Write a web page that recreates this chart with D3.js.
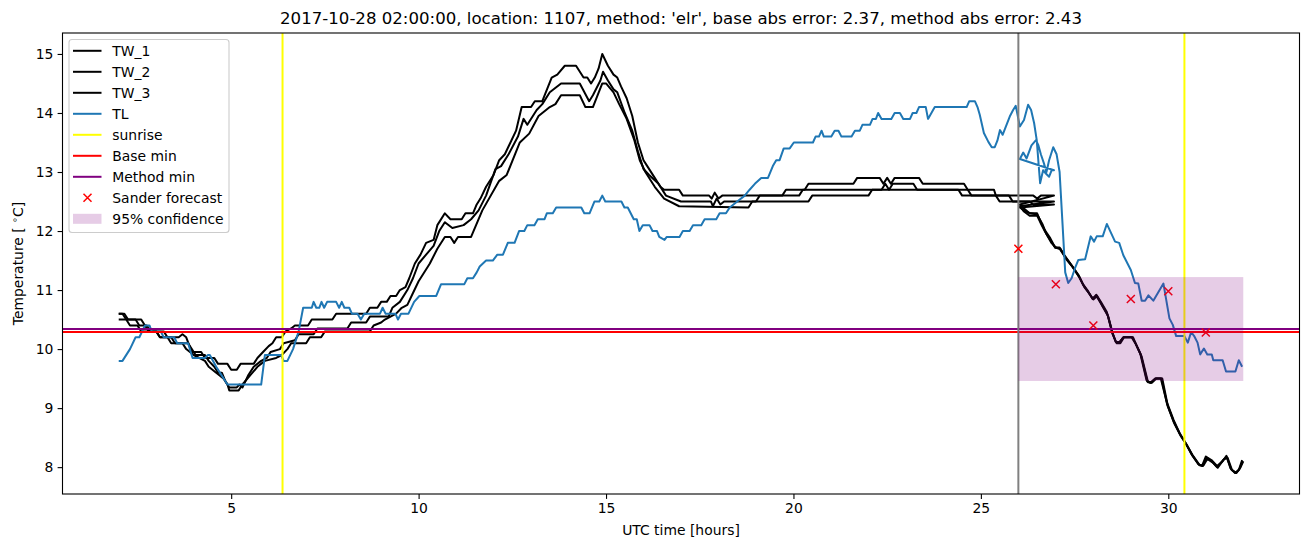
<!DOCTYPE html>
<html><head><meta charset="utf-8">
<script src="https://cdn.jsdelivr.net/npm/d3@7"></script>
<style>body{margin:0;background:#fff}svg{display:block}text{font-family:"DejaVu Sans",sans-serif}</style>
</head><body>
<svg id="c" width="1311" height="547"></svg>
<script>
// ---- data: [hour, temperature] ----
const tw1 = [[2.0,10.6],[2.15,10.6],[2.25,10.5],[2.45,10.5],[2.55,10.4],[2.75,10.4],[2.85,10.3],[3.2,10.3],[3.3,10.2],[3.6,10.2],[3.7,10.25],[3.8,10.2],[3.95,9.95],[4.2,9.95],[4.3,9.85],[4.55,9.85],[4.65,9.75],[4.9,9.75],[5.0,9.65],[5.15,9.65],[5.25,9.75],[5.6,9.75],[5.7,9.85],[5.85,9.95],[6.0,10.05],[6.1,10.1],[6.2,10.2],[6.35,10.2],[6.45,10.3],[6.6,10.35],[6.7,10.4],[7.05,10.4],[7.15,10.5],[7.7,10.5],[7.8,10.6],[8.6,10.6],[8.7,10.7],[8.9,10.7],[9.0,10.8],[9.15,10.8],[9.25,10.9],[9.4,10.9],[9.5,11.0],[9.65,11.05],[9.75,11.2],[9.9,11.45],[10.05,11.6],[10.2,11.8],[10.4,11.85],[10.5,12.1],[10.7,12.3],[10.85,12.2],[11.15,12.2],[11.25,12.3],[11.45,12.3],[11.55,12.45],[11.65,12.55],[11.8,12.75],[12.0,12.95],[12.15,13.2],[12.3,13.3],[12.45,13.5],[12.6,13.7],[12.75,14.1],[13.0,14.1],[13.1,14.2],[13.3,14.2],[13.55,14.6],[13.7,14.65],[13.9,14.8],[14.2,14.8],[14.4,14.6],[14.5,14.6],[14.6,14.5],[14.7,14.6],[14.8,14.75],[14.9,15.0],[15.05,14.8],[15.2,14.65],[15.3,14.6],[15.4,14.45],[15.55,14.25],[15.7,13.95],[15.85,13.5],[16.0,13.2],[16.1,13.1],[16.3,12.9],[16.45,12.75],[16.55,12.7],[16.95,12.7],[17.05,12.6],[17.75,12.6],[17.82,12.55],[17.9,12.65],[18.0,12.55],[18.1,12.6],[19.7,12.6],[19.8,12.7],[20.3,12.7],[20.4,12.8],[21.6,12.8],[21.7,12.9],[22.3,12.9],[22.4,12.8],[22.5,12.9],[22.6,12.8],[22.7,12.9],[23.35,12.9],[23.45,12.8],[24.55,12.8],[24.65,12.7],[25.35,12.7],[25.4,12.6],[26.4,12.6],[26.5,12.55],[26.6,12.6],[26.95,12.6],
  [26.04,12.45],[26.15,12.38],[26.3,12.3],[26.5,12.3],[26.6,12.15],[26.7,12.02],[26.85,11.88],[26.98,11.72],[27.1,11.72],[27.25,11.57],[27.42,11.42],[27.6,11.26],[27.72,11.1],[27.84,11.0],[27.98,10.85],[28.08,10.92],[28.2,10.8],[28.36,10.63],[28.5,10.3],[28.6,10.12],[28.7,10.12],[28.8,10.2],[29.02,10.2],[29.12,10.1],[29.25,9.93],[29.42,9.47],[29.52,9.43],[29.65,9.5],[29.8,9.5],[29.96,9.1],[30.14,8.8],[30.3,8.58],[30.45,8.42],[30.62,8.22],[30.8,8.05],[30.9,8.02],[31.0,8.18],[31.15,8.12],[31.3,8.02],[31.45,8.1],[31.55,8.19],[31.66,7.98],[31.78,7.9],[31.88,7.95],[31.97,8.12]];
const tw2 = [[2.0,10.6],[2.1,10.6],[2.2,10.5],[2.6,10.5],[2.7,10.4],[2.8,10.3],[3.0,10.3],[3.1,10.2],[3.4,10.2],[3.5,10.1],[3.85,10.1],[3.95,10.0],[4.05,9.9],[4.3,9.9],[4.4,9.8],[4.55,9.7],[4.65,9.6],[4.75,9.6],[4.85,9.45],[4.95,9.35],[5.15,9.35],[5.22,9.4],[5.3,9.35],[5.45,9.55],[5.6,9.7],[5.8,9.8],[5.95,9.85],[6.05,9.95],[6.3,10.0],[6.4,10.1],[6.7,10.15],[6.8,10.25],[7.2,10.25],[7.3,10.35],[8.1,10.35],[8.2,10.45],[8.6,10.45],[8.7,10.55],[9.2,10.55],[9.3,10.7],[9.5,10.8],[9.7,11.0],[9.85,11.2],[10.0,11.45],[10.2,11.6],[10.4,11.75],[10.55,12.0],[10.7,12.15],[10.9,12.05],[11.2,12.1],[11.4,12.2],[11.6,12.35],[11.8,12.6],[12.05,13.05],[12.2,13.1],[12.4,13.3],[12.65,13.6],[12.8,13.9],[12.9,13.8],[13.15,14.05],[13.3,14.15],[13.5,14.35],[13.8,14.5],[14.3,14.5],[14.55,14.2],[14.65,14.3],[14.85,14.55],[14.92,14.7],[15.05,14.55],[15.2,14.4],[15.3,14.35],[15.5,14.0],[15.7,13.7],[15.85,13.35],[16.0,13.05],[16.15,12.95],[16.4,12.8],[16.6,12.6],[17.0,12.5],[17.8,12.5],[17.85,12.42],[17.95,12.55],[18.05,12.45],[18.15,12.5],[19.0,12.5],[19.1,12.6],[20.15,12.6],[20.25,12.7],[22.35,12.7],[22.45,12.8],[22.55,12.7],[22.65,12.8],[23.2,12.8],[23.3,12.7],[24.65,12.7],[24.75,12.6],[25.75,12.6],[25.85,12.5],[26.95,12.5],
  [26.04,12.42],[26.15,12.33],[26.3,12.26],[26.5,12.26],[26.62,12.1],[26.72,11.98],[26.86,11.84],[26.98,11.72],[27.1,11.7],[27.26,11.55],[27.44,11.4],[27.62,11.23],[27.74,11.08],[27.86,10.97],[27.98,10.86],[28.08,10.9],[28.22,10.76],[28.38,10.58],[28.5,10.28],[28.6,10.12],[28.7,10.12],[28.8,10.2],[29.04,10.2],[29.14,10.08],[29.27,9.9],[29.44,9.45],[29.54,9.43],[29.66,9.5],[29.82,9.5],[29.97,9.06],[30.15,8.76],[30.32,8.55],[30.47,8.4],[30.64,8.2],[30.82,8.04],[30.92,8.02],[31.02,8.16],[31.16,8.1],[31.3,8.0],[31.46,8.12],[31.56,8.17],[31.68,7.96],[31.8,7.9],[31.9,7.97],[31.98,8.1]];
const tw3 = [[2.0,10.5],[2.2,10.5],[2.3,10.4],[2.5,10.4],[2.6,10.3],[3.0,10.3],[3.1,10.2],[3.3,10.2],[3.4,10.1],[3.7,10.1],[3.8,10.0],[4.0,9.9],[4.3,9.8],[4.4,9.7],[4.6,9.6],[4.8,9.5],[4.9,9.4],[4.95,9.3],[5.2,9.3],[5.3,9.4],[5.5,9.55],[5.7,9.7],[5.9,9.8],[6.2,9.85],[6.35,9.9],[6.5,10.0],[6.6,10.1],[7.0,10.1],[7.1,10.2],[7.4,10.2],[7.5,10.3],[8.7,10.3],[8.8,10.4],[9.0,10.45],[9.1,10.5],[9.4,10.6],[9.55,10.7],[9.7,10.75],[9.85,10.95],[10.0,11.15],[10.3,11.45],[10.5,11.7],[10.7,11.9],[10.85,11.9],[10.95,11.8],[11.05,11.9],[11.4,11.9],[11.7,12.35],[12.15,12.85],[12.35,12.95],[12.7,13.5],[12.95,13.65],[13.2,13.95],[13.5,14.1],[13.65,14.15],[13.8,14.3],[14.3,14.3],[14.45,14.1],[14.65,14.1],[14.9,14.5],[15.0,14.5],[15.2,14.35],[15.35,14.15],[15.55,13.9],[15.75,13.55],[15.9,13.2],[16.05,13.0],[16.3,12.75],[16.55,12.55],[16.95,12.42],[18.8,12.4],[18.9,12.5],[20.4,12.5],[20.5,12.6],[22.0,12.6],[22.1,12.7],[24.4,12.7],[24.5,12.6],[25.4,12.6],[25.5,12.5],[26.3,12.5],[26.4,12.45],[26.95,12.45],
  [26.04,12.4],[26.17,12.34],[26.32,12.3],[26.5,12.28],[26.64,12.12],[26.74,11.96],[26.88,11.8],[27.0,11.72],[27.12,11.7],[27.28,11.52],[27.46,11.38],[27.64,11.2],[27.76,11.05],[27.88,10.95],[28.0,10.84],[28.1,10.9],[28.24,10.73],[28.4,10.55],[28.52,10.25],[28.62,10.1],[28.72,10.1],[28.82,10.2],[29.06,10.2],[29.16,10.05],[29.29,9.87],[29.46,9.44],[29.56,9.43],[29.68,9.5],[29.84,9.5],[29.99,9.03],[30.17,8.73],[30.34,8.52],[30.49,8.38],[30.66,8.19],[30.84,8.03],[30.94,8.03],[31.04,8.14],[31.18,8.08],[31.32,7.99],[31.48,8.13],[31.58,8.16],[31.7,7.95],[31.82,7.9],[31.92,7.99],[32.0,8.1]];
const tl = [[2.0,9.8],[2.1,9.8],[2.3,10.0],[2.45,10.2],[2.55,10.2],[2.7,10.4],[2.82,10.4],[2.88,10.3],[3.12,10.3],[3.2,10.2],[3.48,10.2],[3.56,10.1],[3.85,10.1],[3.97,9.85],[4.3,9.85],[4.38,9.9],[4.43,9.9],[4.6,9.7],[4.75,9.55],[4.9,9.4],[5.8,9.4],[5.9,9.9],[6.33,9.9],[6.4,9.8],[6.5,9.8],[6.65,10.0],[6.8,10.3],[6.92,10.7],[7.15,10.7],[7.2,10.8],[7.27,10.7],[7.35,10.7],[7.41,10.8],[7.48,10.7],[7.56,10.8],[7.8,10.8],[7.88,10.7],[7.95,10.8],[8.02,10.7],[8.15,10.7],[8.22,10.6],[8.37,10.6],[8.46,10.5],[8.55,10.6],[8.97,10.6],[9.04,10.7],[9.12,10.6],[9.38,10.6],[9.45,10.5],[9.53,10.6],[9.73,10.6],[9.88,10.8],[10.02,10.9],[10.47,10.9],[10.6,11.1],[11.22,11.1],[11.3,11.2],[11.45,11.2],[11.55,11.3],[11.63,11.4],[11.8,11.5],[11.98,11.5],[12.1,11.6],[12.25,11.6],[12.38,11.8],[12.56,11.8],[12.68,12.0],[12.82,12.0],[12.9,12.1],[13.09,12.1],[13.18,12.2],[13.36,12.2],[13.42,12.3],[13.58,12.3],[13.67,12.4],[14.34,12.4],[14.42,12.3],[14.56,12.3],[14.69,12.5],[14.82,12.5],[14.9,12.6],[14.98,12.5],[15.41,12.5],[15.49,12.4],[15.58,12.4],[15.74,12.2],[15.82,12.2],[15.89,12.0],[15.98,12.1],[16.16,12.1],[16.24,12.0],[16.36,12.0],[16.42,11.9],[16.56,11.85],[16.62,11.9],[16.96,11.9],[17.05,12.0],[17.23,12.0],[17.32,12.1],[17.54,12.1],[17.63,12.2],[17.94,12.2],[18.03,12.3],[18.2,12.3],[18.3,12.4],[18.5,12.5],[18.7,12.6],[18.83,12.7],[18.97,12.8],[19.14,12.9],[19.32,12.9],[19.45,13.1],[19.54,13.2],[19.63,13.2],[19.74,13.4],[19.9,13.4],[20.01,13.5],[20.52,13.5],[20.59,13.6],[20.68,13.6],[20.75,13.7],[20.81,13.6],[21.01,13.6],[21.1,13.7],[21.2,13.7],[21.28,13.6],[21.55,13.6],[21.64,13.7],[21.77,13.7],[21.84,13.8],[22.04,13.8],[22.11,13.9],[22.2,13.9],[22.26,14.0],[22.35,13.9],[22.61,13.9],[22.7,14.0],[22.84,14.0],[22.93,13.9],[23.11,13.9],[23.18,14.0],[23.28,14.0],[23.35,14.1],[23.53,14.1],[23.59,13.9],[23.77,14.1],[24.62,14.1],[24.69,14.2],[24.84,14.2],[24.91,14.1],[24.97,13.97],[25.08,13.66],[25.2,13.51],[25.29,13.42],[25.37,13.42],[25.44,13.53],[25.51,13.71],[25.58,13.63],[25.77,13.94],[25.86,14.05],[25.93,14.12],[26.04,13.77],[26.15,13.88],[26.26,14.14],[26.34,14.05],[26.42,13.83],[26.49,13.54],[26.58,12.81],[26.66,13.03],[26.74,12.97],[26.82,12.92],[26.89,13.03],[26.95,13.03],
  [26.04,13.22],[26.13,13.33],[26.22,13.23],[26.35,13.45],[26.47,13.54],[26.53,13.46],[26.6,13.3],[26.68,13.15],[26.75,13.0],[26.82,13.2],[26.93,13.42],[27.02,13.3],[27.1,13.0],[27.18,12.1],[27.25,11.3],[27.33,11.12],[27.42,11.2],[27.51,11.37],[27.6,11.51],[27.78,11.52],[27.93,11.91],[28.02,11.82],[28.09,11.91],[28.25,11.91],[28.36,12.12],[28.58,11.82],[28.69,11.8],[28.8,11.59],[29.0,11.34],[29.11,11.12],[29.2,11.11],[29.29,10.82],[29.38,10.82],[29.47,10.91],[29.6,10.82],[29.87,11.11],[30.03,10.52],[30.12,10.41],[30.21,10.22],[30.43,10.22],[30.52,10.11],[30.61,10.29],[30.7,10.21],[30.78,10.11],[30.85,9.91],[30.95,10.01],[31.04,9.91],[31.16,9.91],[31.2,9.81],[31.45,9.81],[31.54,9.62],[31.79,9.62],[31.88,9.81],[31.97,9.7]];
const sunrise = [6.37, 30.43];
const baseMin = 10.29;
const methodMin = 10.34;
const forecastStart = 26.0;
const forecastHours = [26, 27, 28, 29, 30, 31];
const forecastValues = [11.7, 11.1, 10.4, 10.85, 10.98, 10.28];
const confidence = {x0: 26, x1: 32, low: 9.46, high: 11.22};
const xTicks = [5, 10, 15, 20, 25, 30];
const yTicks = [8, 9, 10, 11, 12, 13, 14, 15];
const title = "2017-10-28 02:00:00, location: 1107, method: 'elr', base abs error: 2.37, method abs error: 2.43";

// ---- layout ----
const L = 62.5, R = 1299.5, T = 33, B = 494;
const svg = d3.select("#c");
const x = d3.scaleLinear().domain([0.5, 33.5]).range([L, R]);
const y = d3.scaleLinear().domain([7.545, 15.355]).range([B, T]);
const FS = 13.9;

svg.append("defs").append("clipPath").attr("id","clip")
  .append("rect").attr("x",L).attr("y",T).attr("width",R-L).attr("height",B-T);
const g = svg.append("g").attr("clip-path","url(#clip)");

const line = d3.line().x(d=>x(d[0])).y(d=>y(d[1]));
[tw1,tw2,tw3].forEach(s => g.append("path").attr("d", line(s)).attr("fill","none")
  .attr("stroke","#000").attr("stroke-width",2).attr("stroke-linejoin","round"));
g.append("path").attr("d", line(tl)).attr("fill","none").attr("stroke","#1f77b4")
  .attr("stroke-width",2).attr("stroke-linejoin","round");

sunrise.forEach(s => g.append("line").attr("x1",x(s)).attr("x2",x(s)).attr("y1",T).attr("y2",B)
  .attr("stroke","#ffff00").attr("stroke-width",2));
g.append("line").attr("x1",L).attr("x2",R).attr("y1",y(baseMin)).attr("y2",y(baseMin))
  .attr("stroke","#ff0000").attr("stroke-width",2);
g.append("line").attr("x1",L).attr("x2",R).attr("y1",y(methodMin)).attr("y2",y(methodMin))
  .attr("stroke","#800080").attr("stroke-width",2);
g.append("line").attr("x1",x(forecastStart)).attr("x2",x(forecastStart)).attr("y1",T).attr("y2",B)
  .attr("stroke","#808080").attr("stroke-width",2);

const xm = 4;
forecastHours.forEach((h,i) => {
  const cx = x(h), cy = y(forecastValues[i]);
  g.append("path").attr("d",`M${cx-xm},${cy-xm}L${cx+xm},${cy+xm}M${cx-xm},${cy+xm}L${cx+xm},${cy-xm}`)
    .attr("stroke","#ff0000").attr("stroke-width",1.5);
});
g.append("rect").attr("x",x(confidence.x0)).attr("width",x(confidence.x1)-x(confidence.x0))
  .attr("y",y(confidence.high)).attr("height",y(confidence.low)-y(confidence.high))
  .attr("fill","#800080").attr("fill-opacity",0.2);

// ---- axes ----
const xa = svg.append("g").attr("transform",`translate(0,${B})`)
  .call(d3.axisBottom(x).tickValues(xTicks).tickSize(4.9).tickPadding(4.2).tickFormat(d3.format("d")));
const ya = svg.append("g").attr("transform",`translate(${L},0)`)
  .call(d3.axisLeft(y).tickValues(yTicks).tickSize(4.9).tickPadding(4.2).tickFormat(d3.format("d")));
[xa,ya].forEach(a => { a.select(".domain").remove();
  a.selectAll("text").attr("font-size",FS).attr("font-family","DejaVu Sans").attr("fill","#000");
  a.selectAll("line").attr("stroke","#000").attr("stroke-width",1.1); });
svg.append("rect").attr("x",L).attr("y",T).attr("width",R-L).attr("height",B-T)
  .attr("fill","none").attr("stroke","#000").attr("stroke-width",1.1);

svg.append("text").attr("x",(L+R)/2).attr("y",23.5).attr("text-anchor","middle")
  .attr("font-size",16.6).text(title);
svg.append("text").attr("x",(L+R)/2).attr("y",535).attr("text-anchor","middle")
  .attr("font-size",FS).text("UTC time [hours]");
const yl = svg.append("text").attr("transform",`translate(22.5,${(T+B)/2}) rotate(-90)`)
  .attr("text-anchor","middle").attr("font-size",FS);
yl.append("tspan").text("Temperature [ ");
yl.append("tspan").attr("font-size",9.5).attr("dy",-5).text("∘");
yl.append("tspan").attr("dy",5).text("C]");

// ---- legend ----
const lg = svg.append("g");
lg.append("rect").attr("x",69).attr("y",39.5).attr("width",160).attr("height",193).attr("rx",3)
  .attr("fill","#fff").attr("fill-opacity",0.8).attr("stroke","#cccccc").attr("stroke-width",1.1);
const items = [
  {label:"TW_1", type:"line", color:"#000"},
  {label:"TW_2", type:"line", color:"#000"},
  {label:"TW_3", type:"line", color:"#000"},
  {label:"TL", type:"line", color:"#1f77b4"},
  {label:"sunrise", type:"line", color:"#ffff00"},
  {label:"Base min", type:"line", color:"#ff0000"},
  {label:"Method min", type:"line", color:"#800080"},
  {label:"Sander forecast", type:"x", color:"#ff0000"},
  {label:"95% confidence", type:"patch", color:"#800080"}];
items.forEach((it,i) => {
  const yy = 50.8 + i*21;
  if (it.type === "line") lg.append("line").attr("x1",73).attr("x2",101.5).attr("y1",yy).attr("y2",yy)
      .attr("stroke",it.color).attr("stroke-width",2);
  else if (it.type === "x") { const cx = 87.5;
    lg.append("path").attr("d",`M${cx-xm},${yy-xm}L${cx+xm},${yy+xm}M${cx-xm},${yy+xm}L${cx+xm},${yy-xm}`)
      .attr("stroke",it.color).attr("stroke-width",1.5); }
  else lg.append("rect").attr("x",73).attr("y",yy-5).attr("width",28.5).attr("height",10)
      .attr("fill",it.color).attr("fill-opacity",0.2);
  lg.append("text").attr("x",112.3).attr("y",yy+5).attr("font-size",FS).text(it.label);
});
</script>
</body></html>
